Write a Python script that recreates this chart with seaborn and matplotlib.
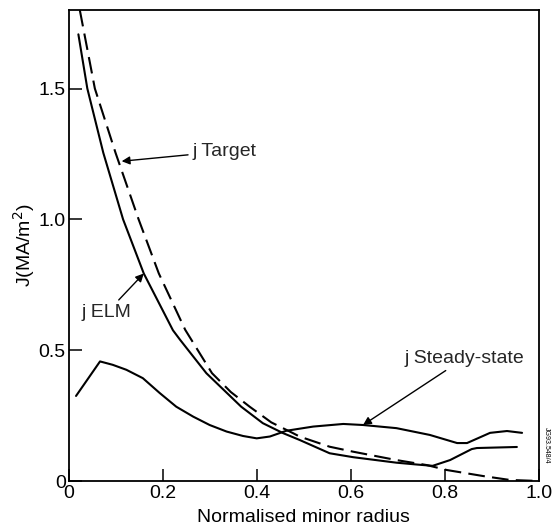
import matplotlib
matplotlib.use("Agg")
import matplotlib.pyplot as plt
import seaborn as sns

# ---- data ----
elm_x = [0.021, 0.040, 0.074, 0.116, 0.160, 0.222, 0.237, 0.293, 0.367, 0.413,
         0.456, 0.491, 0.555, 0.605, 0.697, 0.740, 0.774, 0.811, 0.857, 0.868, 0.953]
elm_y = [1.707, 1.500, 1.254, 1.000, 0.793, 0.576, 0.540, 0.412, 0.284, 0.221,
         0.183, 0.157, 0.106, 0.091, 0.070, 0.063, 0.058, 0.080, 0.122, 0.126, 0.130]

target_x = [0.024, 0.056, 0.100, 0.149, 0.192, 0.248, 0.305, 0.345, 0.385, 0.431,
            0.477, 0.491, 0.555, 0.605, 0.697, 0.761, 0.804, 0.881, 0.938, 1.000]
target_y = [1.800, 1.500, 1.254, 1.000, 0.793, 0.578, 0.412, 0.340, 0.284, 0.224,
            0.183, 0.170, 0.131, 0.112, 0.080, 0.061, 0.042, 0.019, 0.004, 0.000]

steady_x = [0.016, 0.067, 0.094, 0.123, 0.158, 0.194, 0.229, 0.265, 0.300, 0.336,
            0.371, 0.400, 0.428, 0.463, 0.520, 0.584, 0.626, 0.697, 0.768, 0.826,
            0.847, 0.896, 0.932, 0.964]
steady_y = [0.325, 0.457, 0.444, 0.425, 0.393, 0.336, 0.284, 0.246, 0.214, 0.189,
            0.172, 0.163, 0.170, 0.192, 0.208, 0.218, 0.214, 0.202, 0.176, 0.145,
            0.145, 0.184, 0.191, 0.184]

x_ticks = [0, 0.2, 0.4, 0.6, 0.8, 1.0]
x_ticklabels = ["0", "0.2", "0.4", "0.6", "0.8", "1.0"]
y_ticks = [0, 0.5, 1.0, 1.5]
y_ticklabels = ["0", "0.5", "1.0", "1.5"]

FS = 14

sns.set_theme(style="ticks")
plt.rcParams['font.family'] = ['Liberation Sans', 'DejaVu Sans']

fig = plt.figure(figsize=(5.58, 5.30), dpi=100)
ax = fig.add_axes([68.5/558, 49/530, (539-68.5)/558, (481-10)/530])

sns.lineplot(x=elm_x, y=elm_y, sort=False, color="black", linewidth=1.5, ax=ax)
sns.lineplot(x=target_x, y=target_y, sort=False, color="black", linewidth=1.5,
             linestyle=(0, (8, 3.5)), ax=ax)
sns.lineplot(x=steady_x, y=steady_y, sort=False, color="black", linewidth=1.5, ax=ax)

ax.set_xlim(0, 1.0)
ax.set_ylim(0, 1.8)
ax.set_xticks(x_ticks)
ax.set_xticklabels(x_ticklabels)
ax.set_yticks(y_ticks)
ax.set_yticklabels(y_ticklabels)
ax.tick_params(direction="in", length=9, width=1.1, labelsize=FS, colors="black")
ax.tick_params(axis="y", pad=2)
ax.tick_params(axis="x", pad=3)
for s in ax.spines.values():
    s.set_color("black")
    s.set_linewidth(1.3)

ax.set_xlabel("Normalised minor radius", fontsize=FS, color="black", labelpad=5)
ax.set_ylabel("J(MA/m$^2$)", fontsize=FS, color="black", labelpad=1)

arrow = dict(arrowstyle="-|>", color="black", lw=1.0, mutation_scale=12,
             shrinkA=1, shrinkB=0)
ax.annotate("j Target", xy=(0.113, 1.222), xytext=(0.264, 1.26),
            fontsize=FS, va="center", ha="left", arrowprops=arrow)
ax.annotate("j ELM", xy=(0.160, 0.793), xytext=(0.028, 0.643),
            fontsize=FS, va="center", ha="left", arrowprops=arrow)
ax.annotate("j Steady-state", xy=(0.626, 0.214), xytext=(0.715, 0.47),
            fontsize=FS, va="center", ha="left", arrowprops=arrow)

fig.text(546/558, 1 - 445/530, "JG93.548/4", rotation=-90, fontsize=5,
         ha="center", va="center", color="black")

fig.savefig("out.png", dpi=100)
